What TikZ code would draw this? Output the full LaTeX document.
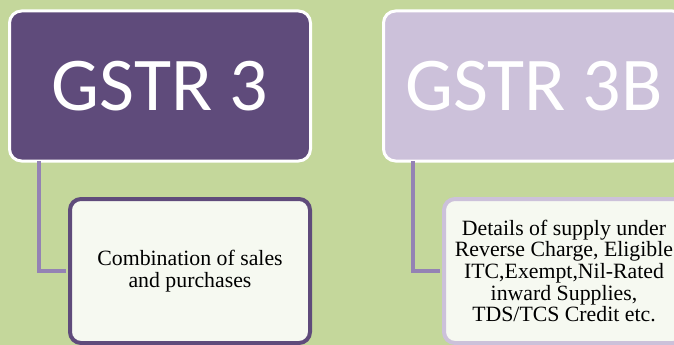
\documentclass[tikz,border=0pt]{standalone}
\usepackage{fontspec}
\setmainfont{Liberation Serif}
\newfontfamily\titlefont{Carlito}
\usepackage{tikz}
\usetikzlibrary{positioning}

\definecolor{pagegreen}{HTML}{C4D79B}
\definecolor{darkplum}{HTML}{5F4B7B}
\definecolor{paleplum}{HTML}{CCC1DA}
\definecolor{linkplum}{HTML}{9482B4}
\definecolor{cardfill}{HTML}{F6F9F1}

\begin{document}
\begin{tikzpicture}[x=1pt, y=-1pt, node distance=3cm,
  head node/.style={rectangle, rounded corners=12pt, draw=white, line width=3pt,
    minimum width=301pt, minimum height=150pt, text=white,
    font=\titlefont\fontsize{76}{80}\selectfont},
  card node/.style={rectangle, rounded corners=11pt, line width=4pt, fill=cardfill,
    minimum width=240pt, minimum height=144pt, align=center, inner sep=2pt,
    font=\fontsize{21.8}{21.7}\selectfont},
  link/.style={linkplum, line width=4pt}]

\clip (0,0) rectangle (674,345);
\fill[pagegreen] (0,0) rectangle (674,345);

\node[head node, fill=darkplum] (G3) at (160,86) {GSTR 3};
\node[head node, fill=paleplum] (G3B) at (534,86) {GSTR 3B};

\node[card node, draw=darkplum] (C3) at (190,271) {Combination of sales\\and purchases};
\node[card node, draw=paleplum] (C3B) at (564,271) {Details of supply under\\Reverse Charge, Eligible\\ITC,Exempt,Nil-Rated\\inward Supplies,\\TDS/TCS Credit etc.};

\draw[link] ([xshift=30.5pt, yshift=1.5pt]G3.south west) |- ([xshift=-2pt]C3.west);
\draw[link] ([xshift=30.5pt, yshift=1.5pt]G3B.south west) |- ([xshift=-2pt]C3B.west);

\end{tikzpicture}
\end{document}
